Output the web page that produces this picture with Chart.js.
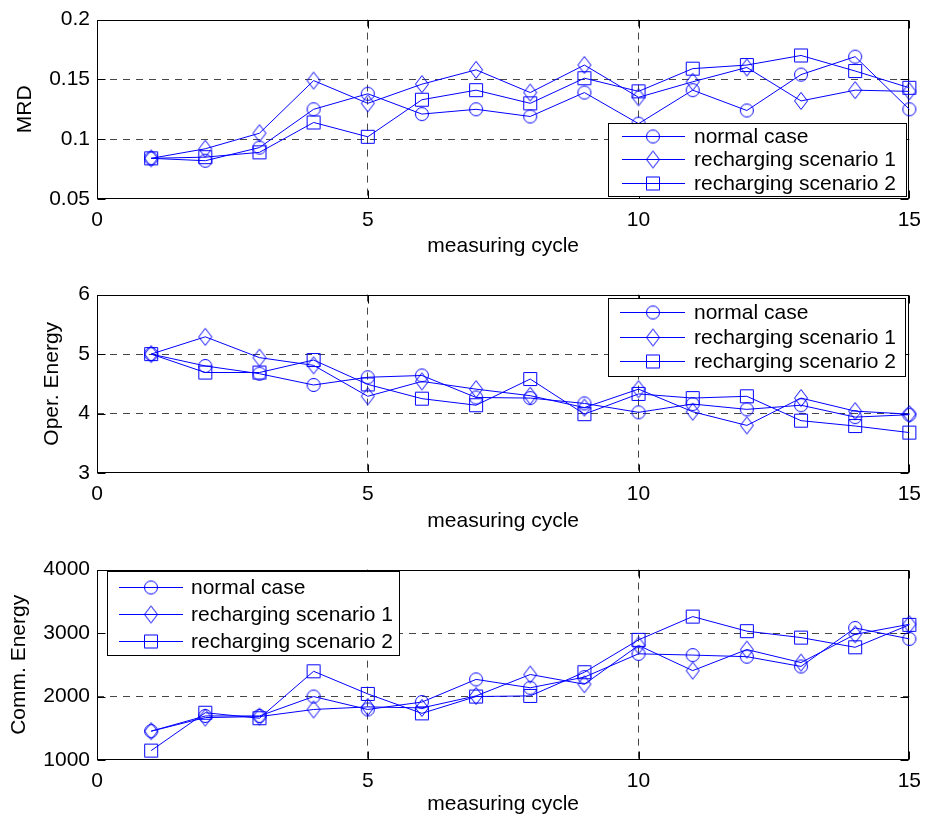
<!DOCTYPE html>
<html>
<head>
<meta charset="utf-8">
<script src="https://cdn.jsdelivr.net/npm/chart.js@4.4.1/dist/chart.umd.min.js"></script>
<style>
  html, body { margin: 0; padding: 0; background: #fff; }
  #wrap { position: relative; width: 930px; height: 821px; overflow: hidden; }
  canvas { position: absolute; left: 0; }
</style>
</head>
<body>
<div id="wrap">
  <canvas id="c1" width="930" height="270" style="top:0px"></canvas>
  <canvas id="c2" width="930" height="270" style="top:275px"></canvas>
  <canvas id="c3" width="930" height="271" style="top:550px"></canvas>
</div>
<script>
// measuring cycles
const cycles = [1, 2, 3, 4, 5, 6, 7, 8, 9, 10, 11, 12, 13, 14, 15];
const seriesLabels = ['normal case', 'recharging scenario 1', 'recharging scenario 2'];

// MRD
const mrdNormal = [0.084, 0.082, 0.093, 0.125, 0.138, 0.121, 0.125, 0.119, 0.139, 0.113, 0.141, 0.124, 0.154, 0.169, 0.125];
const mrdScen1  = [0.084, 0.092, 0.105, 0.149, 0.130, 0.146, 0.158, 0.139, 0.162, 0.135, 0.148, 0.160, 0.132, 0.141, 0.140];
const mrdScen2  = [0.084, 0.085, 0.089, 0.114, 0.102, 0.133, 0.141, 0.130, 0.151, 0.140, 0.159, 0.162, 0.170, 0.157, 0.143];

// Oper. Energy
const operNormal = [5.00, 4.80, 4.67, 4.48, 4.61, 4.64, 4.27, 4.26, 4.17, 4.02, 4.16, 4.07, 4.14, 3.94, 3.98];
const operScen1  = [5.00, 5.29, 4.94, 4.81, 4.29, 4.54, 4.41, 4.30, 4.10, 4.41, 4.03, 3.80, 4.26, 4.04, 3.99];
const operScen2  = [5.00, 4.69, 4.69, 4.90, 4.49, 4.25, 4.14, 4.58, 3.99, 4.33, 4.26, 4.29, 3.88, 3.79, 3.68];

// Comm. Energy
const commNormal = [1454, 1694, 1694, 2000, 1796, 1913, 2270, 2138, 2306, 2673, 2653, 2628, 2474, 3081, 2908];
const commScen1  = [1454, 1668, 1684, 1796, 1837, 1821, 2010, 2347, 2194, 2806, 2408, 2740, 2535, 2980, 3138];
const commScen2  = [1148, 1745, 1658, 2398, 2041, 1735, 2000, 2010, 2383, 2893, 3260, 3030, 2929, 2776, 3130];

const BLUE = 'rgb(0,0,255)';
const FONT = '"Liberation Sans", Arial, sans-serif';

// hollow matlab-like markers drawn once on small canvases
function makeMarker(shape) {
  const c = document.createElement('canvas');
  c.width = 16;
  c.height = shape === 'diamond' ? 20 : 16;
  const g = c.getContext('2d');
  g.strokeStyle = BLUE;
  g.lineWidth = 1;
  g.beginPath();
  if (shape === 'circle') {
    g.arc(8, 8, 6.5, 0, Math.PI * 2);
  } else if (shape === 'diamond') {
    g.moveTo(8, 1.5); g.lineTo(14.5, 10); g.lineTo(8, 18.5); g.lineTo(1.5, 10); g.closePath();
  } else {
    g.rect(1.5, 1.5, 13, 13);
  }
  g.stroke();
  return c;
}
const markers = [makeMarker('circle'), makeMarker('diamond'), makeMarker('square')];

// box, inward ticks and legend like a matlab axes
const matlabPlugin = {
  id: 'matlab',
  beforeDatasetsDraw(chart) {
    const { ctx, chartArea: a, scales } = chart;
    const L = Math.round(a.left) + 0.5, R = Math.round(a.right) - 0.5;
    const T = Math.round(a.top) + 0.5, B = Math.round(a.bottom) - 0.5;
    ctx.save();
    ctx.strokeStyle = '#000';
    ctx.lineWidth = 1;
    ctx.strokeRect(L, T, R - L, B - T);
    ctx.beginPath();
    scales.x.ticks.forEach(t => {
      const px = Math.round(scales.x.getPixelForValue(t.value)) + 0.5;
      ctx.moveTo(px, B); ctx.lineTo(px, B - 8);
      ctx.moveTo(px, T); ctx.lineTo(px, T + 8);
    });
    scales.y.ticks.forEach(t => {
      const py = Math.round(scales.y.getPixelForValue(t.value)) + 0.5;
      ctx.moveTo(L, py); ctx.lineTo(L + 8, py);
      ctx.moveTo(R, py); ctx.lineTo(R - 8, py);
    });
    ctx.stroke();
    ctx.restore();
  },
  afterDraw(chart, args, opts) {
    const lg = opts.legend;
    if (!lg) return;
    const ctx = chart.ctx;
    ctx.save();
    ctx.fillStyle = '#fff';
    ctx.fillRect(lg.x1, lg.y1, lg.x2 - lg.x1, lg.y2 - lg.y1);
    ctx.strokeStyle = '#000';
    ctx.lineWidth = 1;
    ctx.strokeRect(lg.x1 + 0.5, lg.y1 + 0.5, lg.x2 - lg.x1, lg.y2 - lg.y1);
    ctx.font = '21px ' + FONT;
    ctx.textBaseline = 'middle';
    ctx.textAlign = 'left';
    chart.data.datasets.forEach((ds, i) => {
      const y = lg.rows[i];
      ctx.strokeStyle = BLUE;
      ctx.beginPath();
      ctx.moveTo(lg.lineX1, Math.round(y) + 0.5);
      ctx.lineTo(lg.lineX2, Math.round(y) + 0.5);
      ctx.stroke();
      const m = markers[i];
      ctx.drawImage(m, Math.round(lg.markX - m.width / 2), Math.round(y - m.height / 2) + 0.5);
      ctx.fillStyle = '#000';
      ctx.fillText(ds.label, lg.textX, y + 1);
    });
    ctx.restore();
  }
};

function makePanel(id, series, y, xCfg, legend) {
  const datasets = series.map((vals, i) => ({
    label: seriesLabels[i],
    data: cycles.map((c, k) => ({ x: c, y: vals[k] })),
    borderColor: BLUE,
    backgroundColor: 'rgba(0,0,0,0)',
    borderWidth: 1,
    tension: 0,
    pointStyle: markers[i],
    pointRadius: 7,
    pointHoverRadius: 7,
    clip: false
  }));

  const gridColor = (min, max) => c =>
    (Math.abs(c.tick.value - min) < 1e-9 || Math.abs(c.tick.value - max) < 1e-9) ? 'rgba(0,0,0,0)' : 'rgb(70,70,70)';

  return new Chart(document.getElementById(id), {
    type: 'line',
    data: { datasets },
    plugins: [matlabPlugin],
    options: {
      responsive: false,
      animation: false,
      events: [],
      layout: { padding: { top: 14, right: 13, left: 0, bottom: 0 } },
      scales: {
        x: {
          type: 'linear',
          min: 0,
          max: 15,
          afterFit: s => { s.height = xCfg.height; },
          ticks: { stepSize: 5, color: '#000', padding: 9, font: { size: 21, family: FONT }, maxRotation: 0 },
          grid: { color: gridColor(0, 15), drawTicks: false },
          border: { display: false, dash: [7, 6] },
          title: { display: true, text: 'measuring cycle', color: '#000', font: { size: 21, family: FONT }, padding: { top: 0, bottom: xCfg.titlePad } }
        },
        y: {
          min: y.min,
          max: y.max,
          afterFit: s => { s.width = 97; },
          ticks: {
            stepSize: y.step,
            color: '#000',
            padding: 7,
            font: { size: 21, family: FONT },
            callback: v => String(Number(v.toFixed(2)))
          },
          grid: { color: gridColor(y.min, y.max), drawTicks: false },
          border: { display: false, dash: [7, 6] },
          title: { display: true, text: y.title, color: '#000', font: { size: 21, family: FONT }, padding: { top: y.titlePad, bottom: 0 } }
        }
      },
      plugins: {
        legend: { display: false },
        tooltip: { enabled: false },
        matlab: { legend }
      }
    }
  });
}

makePanel('c1', [mrdNormal, mrdScen1, mrdScen2],
  { min: 0.05, max: 0.2, step: 0.05, title: 'MRD', titlePad: 13 },
  { height: 71, titlePad: 11 },
  { x1: 608, y1: 123, x2: 906, y2: 196, rows: [136, 159, 183], lineX1: 622, lineX2: 685, markX: 653, textX: 694 });

makePanel('c2', [operNormal, operScen1, operScen2],
  { min: 3, max: 6, step: 1, title: 'Oper. Energy', titlePad: 40 },
  { height: 72, titlePad: 11 },
  { x1: 608, y1: 23, x2: 905, y2: 101, rows: [37, 62, 86], lineX1: 620, lineX2: 685, markX: 653, textX: 694 });

makePanel('c3', [commNormal, commScen1, commScen2],
  { min: 1000, max: 4000, step: 1000, title: 'Comm. Energy', titlePad: 7 },
  { height: 61, titlePad: 4 },
  { x1: 107, y1: 21, x2: 399, y2: 105, rows: [37, 64, 91], lineX1: 119, lineX2: 183, markX: 151, textX: 191 });
</script>
</body>
</html>
